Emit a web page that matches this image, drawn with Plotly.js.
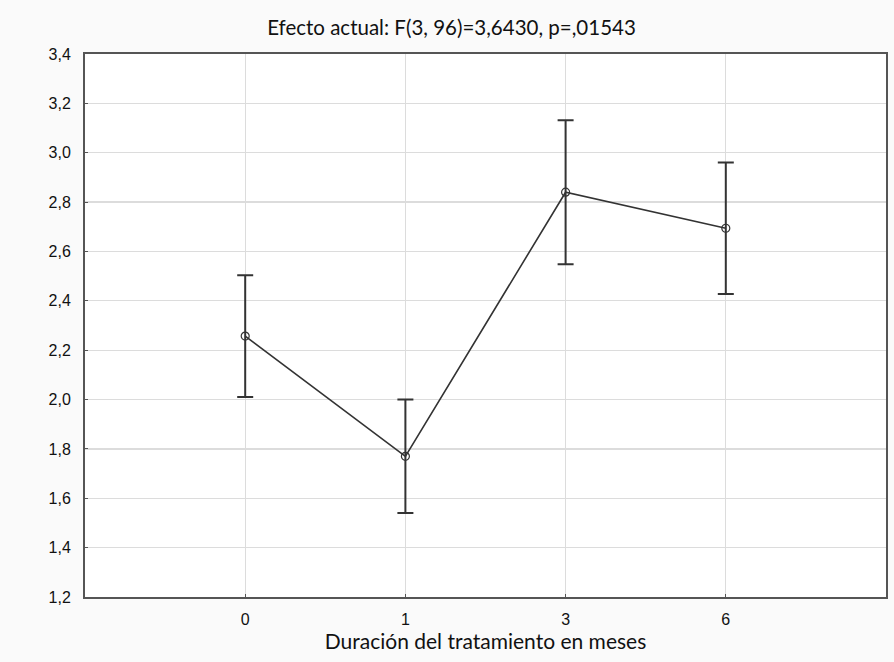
<!DOCTYPE html>
<html>
<head>
<meta charset="utf-8">
<script src="https://cdn.plot.ly/plotly-3.0.1.min.js"></script>
<style>html,body{margin:0;padding:0;background:#fafafa;}</style>
</head>
<body>
<div id="chart" style="width:894px;height:662px;"></div>
<script>
const categories = ["0", "1", "3", "6"];
const means = [2.257, 1.770, 2.840, 2.694];
const errors = [0.247, 0.230, 0.292, 0.266];
const yTicks = [1.2, 1.4, 1.6, 1.8, 2.0, 2.2, 2.4, 2.6, 2.8, 3.0, 3.2, 3.4];
const chartTitle = "Efecto actual: F(3, 96)=3,6430, p=,01543";
const xTitle = "Duración del tratamiento en meses";

const trace = {
  x: categories,
  y: means,
  type: "scatter",
  mode: "lines+markers",
  line: {color: "#333333", width: 1.6},
  marker: {symbol: "circle-open", size: 8, color: "#333333", line: {width: 1.2, color: "#333333"}},
  error_y: {type: "data", array: errors, visible: true, color: "#333333", thickness: 2, width: 8},
  hoverinfo: "skip",
  showlegend: false
};

const layout = {
  width: 894, height: 662,
  paper_bgcolor: "#fafafa",
  plot_bgcolor: "#ffffff",
  separators: ", ",
  margin: {l: 85, r: 8, t: 54, b: 65},
  title: {text: chartTitle, x: 0.505, xref: "container", xanchor: "center", y: 0.958, yanchor: "middle",
          font: {family: "Lato", size: 20.5, color: "#111111"}},
  xaxis: {
    type: "category", categoryorder: "array", categoryarray: categories,
    range: [-1, 4],
    showgrid: true, gridcolor: "#dcdcdc", gridwidth: 1.2,
    showline: true, linecolor: "#555555", linewidth: 2, mirror: true,
    ticks: "inside", ticklen: 3, tickcolor: "#555555",
    ticklabelstandoff: 7,
    tickfont: {family: "Liberation Sans", size: 16, color: "#111111"},
    zeroline: false,
    title: {text: xTitle, standoff: 3, font: {family: "Lato", size: 21, color: "#111111"}}
  },
  yaxis: {
    range: [1.2, 3.4],
    tickvals: yTicks, tickformat: ".1f",
    showgrid: true, gridcolor: "#dcdcdc", gridwidth: 1.2,
    showline: true, linecolor: "#555555", linewidth: 2, mirror: true,
    ticks: "inside", ticklen: 3, tickcolor: "#555555",
    ticklabelstandoff: 9,
    tickfont: {family: "Liberation Sans", size: 16, color: "#111111"},
    zeroline: false
  }
};

Plotly.newPlot("chart", [trace], layout, {displayModeBar: false, staticPlot: true});
</script>
</body>
</html>
